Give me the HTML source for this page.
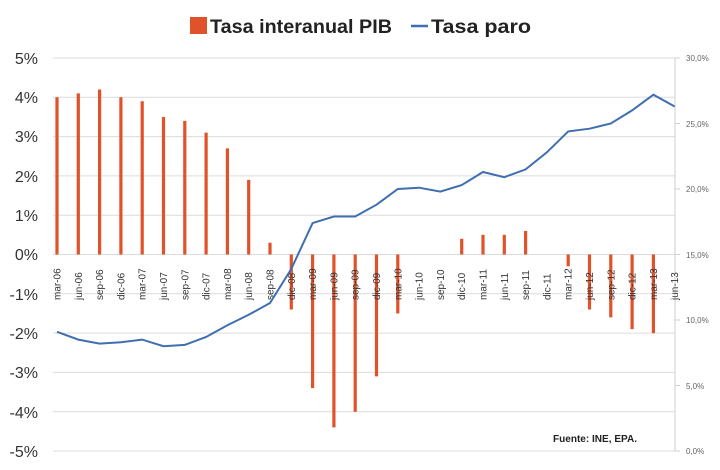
<!DOCTYPE html>
<html><head><meta charset="utf-8"><style>
html,body{margin:0;padding:0;background:#fff;}
svg{display:block;font-family:"Liberation Sans",sans-serif;}
</style></head><body>
<svg width="720" height="470" viewBox="0 0 720 470" xmlns="http://www.w3.org/2000/svg">
<rect width="720" height="470" fill="#fff"/>
<!-- legend -->
<rect x="190" y="17" width="17" height="17" fill="#e0522a"/>
<text x="210" y="33" font-size="19" font-weight="bold" fill="#222" textLength="182" lengthAdjust="spacingAndGlyphs">Tasa interanual PIB</text>
<line x1="411" y1="26" x2="428" y2="26" stroke="#3f6fb0" stroke-width="2.5"/>
<text x="431" y="33" font-size="19" font-weight="bold" fill="#222" textLength="100" lengthAdjust="spacingAndGlyphs">Tasa paro</text>
<!-- gridlines -->
<g stroke="#dcdcdc" stroke-width="1">
<line x1="53" y1="58" x2="675" y2="58"/><line x1="53" y1="97.3" x2="675" y2="97.3"/>
<line x1="53" y1="136.6" x2="675" y2="136.6"/><line x1="53" y1="175.9" x2="675" y2="175.9"/>
<line x1="53" y1="215.2" x2="675" y2="215.2"/><line x1="53" y1="254.5" x2="675" y2="254.5"/>
<line x1="53" y1="293.8" x2="675" y2="293.8"/><line x1="53" y1="333.1" x2="675" y2="333.1"/>
<line x1="53" y1="372.4" x2="675" y2="372.4"/><line x1="53" y1="411.7" x2="675" y2="411.7"/>
<line x1="53" y1="451" x2="675" y2="451"/>
</g>
<line x1="675" y1="58" x2="675" y2="451" stroke="#cfcfcf"/>
<g stroke="#cfcfcf"><line x1="675" y1="58" x2="680" y2="58"/><line x1="675" y1="123.5" x2="680" y2="123.5"/><line x1="675" y1="189" x2="680" y2="189"/><line x1="675" y1="254.5" x2="680" y2="254.5"/><line x1="675" y1="320" x2="680" y2="320"/><line x1="675" y1="385.5" x2="680" y2="385.5"/><line x1="675" y1="451" x2="680" y2="451"/></g>
<!-- left labels -->
<g font-size="16" fill="#333" text-anchor="end">
<text x="38" y="64">5%</text><text x="38" y="103">4%</text><text x="38" y="142">3%</text>
<text x="38" y="182">2%</text><text x="38" y="221">1%</text><text x="38" y="260">0%</text>
<text x="38" y="300">-1%</text><text x="38" y="339">-2%</text><text x="38" y="378">-3%</text>
<text x="38" y="418">-4%</text><text x="38" y="457">-5%</text>
</g>
<g font-size="8" fill="#666">
<text x="686" y="61">30,0%</text><text x="686" y="127">25,0%</text><text x="686" y="192">20,0%</text>
<text x="686" y="258">15,0%</text><text x="686" y="323">10,0%</text><text x="686" y="389">5,0%</text><text x="686" y="454">0,0%</text>
</g>
<!-- bars -->
<g stroke="#e0522a" stroke-width="3.2" id="bars"></g>
<!-- x labels -->
<g id="xl" font-size="10" fill="#333"></g>
<polyline id="line" fill="none" stroke="#3f6fb0" stroke-width="2"/>
<text x="553" y="442" font-size="10.5" font-weight="bold" fill="#222" textLength="84" lengthAdjust="spacingAndGlyphs">Fuente: INE, EPA.</text>
<script>
var pib=[4.0,4.1,4.2,4.0,3.9,3.5,3.4,3.1,2.7,1.9,0.3,-1.4,-3.4,-4.4,-4.0,-3.1,-1.5,0,0,0.4,0.5,0.5,0.6,0,-0.3,-1.4,-1.6,-1.9,-2.0,null];
var paro=[9.1,8.5,8.2,8.3,8.5,8.0,8.1,8.7,9.6,10.4,11.3,13.9,17.4,17.9,17.9,18.8,20.0,20.1,19.8,20.3,21.3,20.9,21.5,22.8,24.4,24.6,25.0,26.0,27.2,26.3];
var m=["mar","jun","sep","dic"];
var ns="http://www.w3.org/2000/svg",b=document.getElementById("bars"),xl=document.getElementById("xl"),pts=[];
for(var i=0;i<30;i++){var x=57+21.3*i;
 if(pib[i]!==null&&pib[i]!==0){var l=document.createElementNS(ns,"line");l.setAttribute("x1",x);l.setAttribute("x2",x);l.setAttribute("y1",254.5);l.setAttribute("y2",254.5-pib[i]*39.3);b.appendChild(l);}
 var t=document.createElementNS(ns,"text");var y=6+Math.floor(i/4);t.textContent=m[i%4]+"-"+(y<10?"0":"")+y;
 t.setAttribute("transform","translate("+(x+3.5)+",300) rotate(-90)");xl.appendChild(t);
 pts.push(x+","+(451-paro[i]*13.1).toFixed(1));}
document.getElementById("line").setAttribute("points",pts.join(" "));
</script>
</svg>
</body></html>
